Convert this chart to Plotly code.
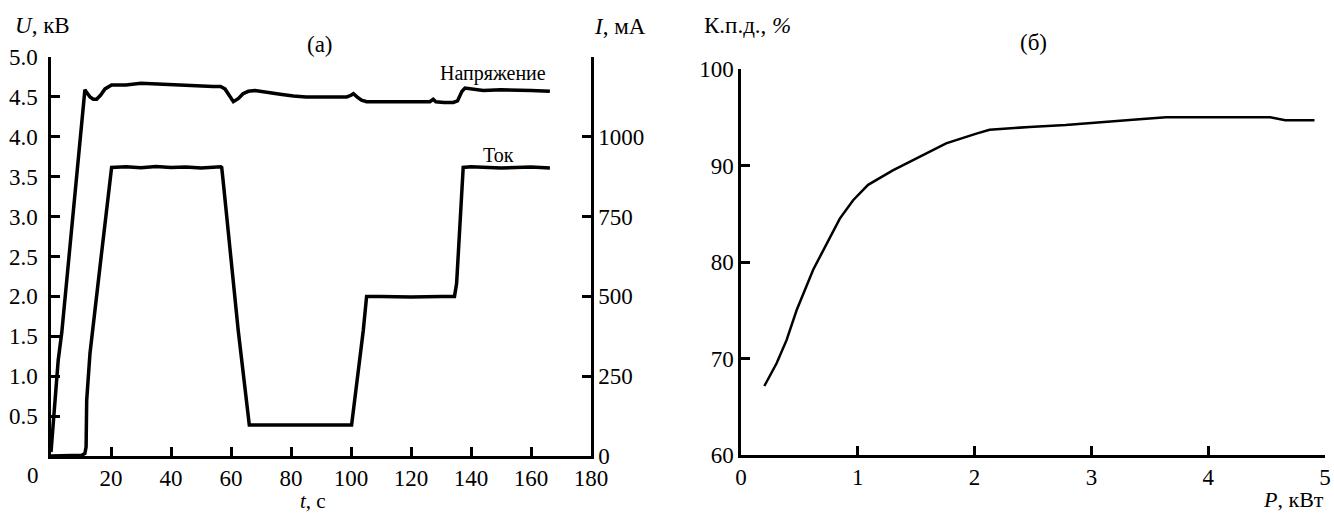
import plotly.graph_objects as go

# ---- Panel (a): voltage and current vs time ----
t_u = [0, 0.3, 1.3, 2.4, 3.6, 7.5, 11.3, 11.8, 13.0, 14.1, 15.2, 16.5, 18.0, 20.2, 25, 30, 35,
       40, 45, 50, 54, 56.5, 58.0, 60.8, 62.5, 64.0, 65.8, 68.0, 70.5, 73.6, 77.0, 80.8, 85, 90,
       95, 98.6, 100.0, 100.8, 102.0, 103.5, 105.2, 110, 116.3, 121, 126.3, 127.4, 128.3, 131,
       134.1, 135.5, 136.3, 137.0, 138.0, 141, 144.1, 150, 155, 160, 166.3]
u_kv = [0.05, 0.2, 0.59, 1.2, 1.55, 3.1, 4.59, 4.56, 4.50, 4.47, 4.47, 4.52, 4.60, 4.65, 4.65,
        4.67, 4.66, 4.65, 4.64, 4.64, 4.63, 4.63, 4.60, 4.44, 4.48, 4.54, 4.57, 4.58, 4.57, 4.55,
        4.53, 4.51, 4.50, 4.50, 4.50, 4.50, 4.52, 4.54, 4.50, 4.46, 4.44, 4.44, 4.43, 4.43, 4.44,
        4.47, 4.44, 4.43, 4.43, 4.45, 4.52, 4.57, 4.61, 4.60, 4.58, 4.59, 4.58, 4.58, 4.57]

t_i = [0, 5, 10.2, 11.3, 11.7, 11.9, 13.0, 16.6, 20.2, 25, 30, 35, 40, 45, 50, 56.6, 56.9, 57.4,
       62.4, 66.1, 70, 80, 90, 100.2, 104.1, 105.2, 110, 120, 130, 134.5, 135.2, 136.8, 137.4,
       140, 150, 160, 166.3]
i_ma = [0, 0, 2, 8, 29, 175, 322, 615, 904, 906, 903, 907, 904, 905, 902, 906, 904, 860, 394,
        97, 97, 97, 97, 97, 394, 500, 500, 498, 500, 500, 540, 820, 904, 906, 902, 905, 902]

t_ticks = [20, 40, 60, 80, 100, 120, 140, 160, 180]
u_ticks = [0.5, 1.0, 1.5, 2.0, 2.5, 3.0, 3.5, 4.0, 4.5, 5.0]
i_ticks = [0, 250, 500, 750, 1000]

# ---- Panel (б): efficiency vs power ----
p_kw = [0.2, 0.305, 0.39, 0.476, 0.618, 0.76, 0.846, 0.96, 1.088, 1.30, 1.50, 1.756, 2.015,
        2.128, 2.47, 2.78, 3.41, 3.64, 4.53, 4.66, 4.91]
eff = [67.15, 69.5, 71.9, 75.0, 79.2, 82.6, 84.5, 86.4, 88.0, 89.5, 90.7, 92.3, 93.3, 93.7,
       94.0, 94.2, 94.8, 95.0, 95.0, 94.7, 94.7]
p_ticks = [0, 1, 2, 3, 4, 5]
eff_ticks = [60, 70, 80, 90, 100]

W, H = 1334, 513
FONT = "Liberation Serif"
TS = 23


def px(x):
    return x / W


def py(y):
    return 1 - y / H


fig = go.Figure()
fig.add_trace(go.Scatter(x=t_u, y=u_kv, mode="lines", line=dict(color="black", width=3.5),
                         xaxis="x", yaxis="y", showlegend=False))
fig.add_trace(go.Scatter(x=t_i, y=i_ma, mode="lines", line=dict(color="black", width=3.5),
                         xaxis="x", yaxis="y2", showlegend=False))
fig.add_trace(go.Scatter(x=p_kw, y=eff, mode="lines", line=dict(color="black", width=2.5),
                         xaxis="x3", yaxis="y3", showlegend=False))

axis_common = dict(showline=True, linecolor="black", linewidth=2.5, ticks="inside",
                   ticklen=9, tickwidth=2.5, tickcolor="black", showgrid=False,
                   zeroline=False, tickfont=dict(family=FONT, size=TS, color="black"),
                   fixedrange=True, automargin=False)

fig.update_layout(
    width=W, height=H, autosize=False,
    margin=dict(l=0, r=0, t=0, b=0),
    paper_bgcolor="white", plot_bgcolor="white",
    font=dict(family=FONT, color="black"),
    xaxis=dict(domain=[px(51), px(591)], range=[0, 180], anchor="y",
               tickvals=t_ticks, ticktext=[str(v) for v in t_ticks], **axis_common),
    yaxis=dict(domain=[py(456), py(57)], range=[0, 5], anchor="x",
               tickvals=u_ticks, ticktext=[f"{v:.1f}" for v in u_ticks],
               ticklabelstandoff=6, **axis_common),
    yaxis2=dict(range=[0, 1250], overlaying="y", side="right", anchor="x",
                tickvals=i_ticks, ticktext=[str(v) for v in i_ticks], **axis_common),
    xaxis3=dict(domain=[px(741), px(1325)], range=[0, 5], anchor="y3",
                tickvals=p_ticks, ticktext=[str(v) for v in p_ticks], **axis_common),
    yaxis3=dict(domain=[py(455), py(69)], range=[60, 100], anchor="x3",
                tickvals=eff_ticks, ticktext=[str(v) for v in eff_ticks], **axis_common),
)


def note(text, x, y, size=TS, xanchor="center", family=FONT):
    fig.add_annotation(text=text, x=px(x), y=py(y), xref="paper", yref="paper",
                       xanchor=xanchor, yanchor="middle", showarrow=False,
                       font=dict(family=family, size=size, color="black"))


note("<i>U</i>, кВ", 42, 25)
note("(а)", 320, 44)
note("<i>I</i>, мА", 620, 26)
note("<i>t</i>, с", 313, 500.5, size=21)
note("0", 33, 475)
note("Напряжение", 493, 73, size=20)
note("Ток", 498, 155, size=20)
note("К.п.д., <i>%</i>", 747, 25)
note("(б)", 1033, 42)
note("<i>P</i>, кВт", 1326, 499, size=22, xanchor="right")

fig.write_html("out.html", post_script="document.body.style.margin='0px';",
               config={"displayModeBar": False})
